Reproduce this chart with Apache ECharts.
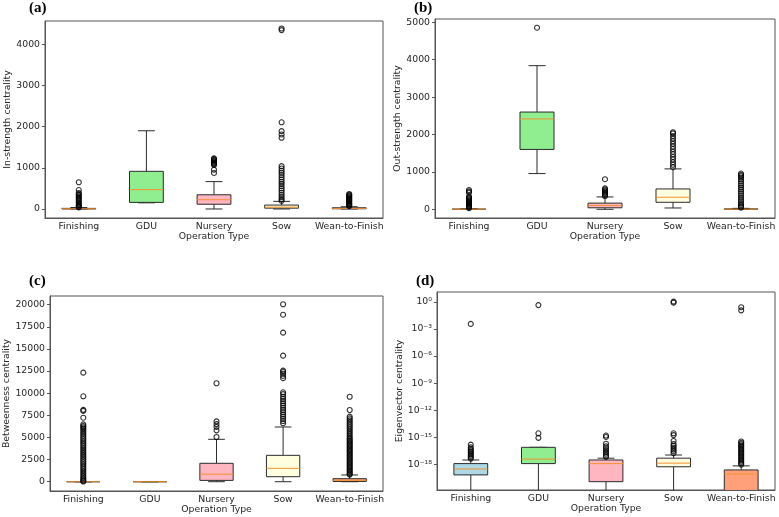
<!DOCTYPE html>
<html>
<head>
<meta charset="utf-8">
<script src="https://cdn.jsdelivr.net/npm/echarts@6/dist/echarts.min.js"></script>
<style>
    html, body { margin: 0; padding: 0; background: #fff; }
    #chart { width: 779px; height: 517px; }
</style>
</head>
<body>
<div id="chart"></div>
<script>
// operation types on the x axis of every panel
var categories = ['Finishing', 'GDU', 'Nursery', 'Sow', 'Wean-to-Finish'];

// boxes are [lower whisker, Q1, median, Q3, upper whisker], one per operation type
var inStrengthBoxes = [
    [0, 0, 5, 15, 35],
    [150, 160, 470, 915, 1900],
    [0, 115, 225, 345, 665],
    [0, 20, 45, 95, 185],
    [0, 5, 15, 30, 55]
];
var inStrengthOutliers = [
    [650, 460, 390, 360, 330, 300, 270, 240, 210, 180, 150, 120, 95, 75, 55, 40],
    [],
    [1230, 1210, 1190, 1170, 1150, 1130, 1110, 1090, 1070, 955, 875],
    [4385, 4345, 2105, 1890, 1810, 1730, 1040, 985, 930, 880, 825, 770, 715, 660, 610, 555, 500, 450, 395, 340, 290, 240, 200],
    [365, 345, 325, 305, 285, 265, 245, 225, 205, 185, 165, 145, 125, 105, 85, 70]
];

var outStrengthBoxes = [
    [0, 0, 2, 5, 10],
    [955, 1600, 2415, 2600, 3840],
    [0, 40, 100, 165, 330],
    [35, 187, 322, 544, 1080],
    [0, 0, 3, 10, 25]
];
var outStrengthOutliers = [
    [515, 480, 445, 340, 315, 290, 265, 240, 215, 190, 165, 140, 115, 90, 70, 50, 30],
    [4855],
    [805, 560, 530, 500, 470, 440, 410, 380, 350],
    [2060, 2030, 1960, 1890, 1820, 1750, 1680, 1610, 1540, 1470, 1400, 1330, 1260, 1190, 1125],
    [955, 925, 890, 850, 800, 745, 690, 635, 580, 525, 470, 415, 360, 305, 250, 200, 150, 110, 75, 45]
];

var betweennessBoxes = [
    [0, 0, 0, 0, 0],
    [0, 0, 0, 0, 0],
    [0, 150, 850, 2080, 4790],
    [0, 565, 1510, 2980, 6180],
    [0, 30, 150, 340, 760]
];
var betweennessOutliers = [
    [12320, 9650, 8120, 8000, 7230, 6480, 6300, 6150, 6000, 5800, 5600, 5400, 5200, 5000, 4800, 4600, 4400, 4200, 4000,
        3800, 3600, 3400, 3200, 3000, 2800, 2600, 2400, 2200, 2000, 1800, 1600, 1400, 1200, 1000, 800, 600, 400, 250, 100, 20],
    [],
    [11120, 6820, 6500, 6200, 5800, 5050],
    [20050, 18870, 16840, 14240, 12550, 12400, 12200, 11950, 11700, 10100, 9900, 9600, 9350, 9100, 8850, 8600,
        8350, 8100, 7850, 7600, 7350, 7100, 6850, 6600],
    [9600, 8100, 7350, 7150, 6950, 6750, 6550, 6350, 6150, 5950, 5750, 5550, 5350, 5150, 4950, 4800, 4650, 4500, 4350,
        4200, 4050, 3900, 3750, 3600, 3450, 3300, 3150, 3000, 2850, 2700, 2550, 2400, 2250, 2100, 1950, 1800, 1650,
        1500, 1350, 1200, 1050, 900, 800]
];

// eigenvector centrality is on a log scale: these are log10 of the values (-22 = runs off the bottom)
var eigenLog10Boxes = [
    [-22, -19.15, -18.5, -17.9, -17.5],
    [-22, -17.9, -17.4, -16.1, -16.1],
    [-22, -19.9, -17.9, -17.5, -17.3],
    [-22, -18.25, -17.85, -17.3, -16.95],
    [-22, -22, -19.05, -18.6, -18.15]
];
var eigenLog10Outliers = [
    [-2.45, -15.8, -16.1, -16.3, -16.45, -16.6, -16.75, -16.9, -17.05, -17.2, -17.35],
    [-0.37, -14.55, -15.05],
    [-14.8, -14.95, -15.7, -16.0, -16.2, -16.4, -16.6, -16.8, -17.0, -17.15],
    [0.02, -0.1, -14.55, -14.75, -15.4, -15.75, -15.95, -16.15, -16.35, -16.55, -16.75],
    [-0.6, -0.95, -15.45, -15.6, -15.75, -15.9, -16.05, -16.2, -16.35, -16.5, -16.65, -16.8, -16.95, -17.1,
        -17.25, -17.4, -17.55, -17.7, -17.85, -18.0]
];

// tick labels of each y axis
var inStrengthTicks = [0, 1000, 2000, 3000, 4000];
var outStrengthTicks = [0, 1000, 2000, 3000, 4000, 5000];
var betweennessTicks = [0, 2500, 5000, 7500, 10000, 12500, 15000, 17500, 20000];
var eigenLog10Ticks = [-18, -15, -12, -9, -6, -3, 0];

var boxColors = ['#add8e6', '#90ee90', '#ffb6c1', '#ffffe0', '#ffa07a'];
var edgeColor = '#2b2b2b';
var medianColor = '#f5922f';
var textColor = '#262626';
var fontFamily = '"DejaVu Sans", sans-serif';

function superscript(n) {
    var map = { '-': '\u207b', '0': '\u2070', '1': '\u00b9', '2': '\u00b2', '3': '\u00b3', '4': '\u2074',
        '5': '\u2075', '6': '\u2076', '7': '\u2077', '8': '\u2078', '9': '\u2079' };
    return String(n).split('').map(function (c) { return map[c] || c; }).join('');
}

function renderBox(params, api) {
    var idx = api.value(0);
    var pLo = api.coord([idx, api.value(1)]);
    var pQ1 = api.coord([idx, api.value(2)]);
    var pMed = api.coord([idx, api.value(3)]);
    var pQ3 = api.coord([idx, api.value(4)]);
    var pHi = api.coord([idx, api.value(5)]);
    var bw = api.size([1, 0])[0] * 0.5;
    var cap = bw * 0.5;
    var x = pLo[0];
    function ln(x1, y1, x2, y2, color) {
        return { type: 'line', shape: { x1: x1, y1: y1, x2: x2, y2: y2 },
            style: { stroke: color || edgeColor, lineWidth: 1 } };
    }
    return {
        type: 'group',
        children: [
            ln(x, pQ1[1], x, pLo[1]),
            ln(x, pQ3[1], x, pHi[1]),
            ln(x - cap / 2, pLo[1], x + cap / 2, pLo[1]),
            ln(x - cap / 2, pHi[1], x + cap / 2, pHi[1]),
            {
                type: 'rect',
                shape: { x: x - bw / 2, y: pQ3[1], width: bw, height: pQ1[1] - pQ3[1] },
                style: { fill: boxColors[params.dataIndex], stroke: edgeColor, lineWidth: 1 }
            },
            ln(x - bw / 2, pMed[1], x + bw / 2, pMed[1], medianColor)
        ]
    };
}

var panels = [
    { label: '(a)', name: 'In-strength centrality', boxes: inStrengthBoxes, outliers: inStrengthOutliers,
        ticks: inStrengthTicks, min: -219, max: 4566, nameGap: 31,
        grid: { left: 45, top: 21, width: 338, height: 197 }, title: { left: 29, top: 1 } },
    { label: '(b)', name: 'Out-strength centrality', boxes: outStrengthBoxes, outliers: outStrengthOutliers,
        ticks: outStrengthTicks, min: -233, max: 5088, nameGap: 31,
        grid: { left: 435, top: 19, width: 340, height: 199 }, title: { left: 414, top: 1 } },
    { label: '(c)', name: 'Betweenness centrality', boxes: betweennessBoxes, outliers: betweennessOutliers,
        ticks: betweennessTicks, min: -1050, max: 20980, nameGap: 37,
        grid: { left: 50, top: 296, width: 333, height: 195 }, title: { left: 29, top: 274 } },
    { label: '(d)', name: 'Eigenvector centrality', boxes: eigenLog10Boxes, outliers: eigenLog10Outliers,
        ticks: eigenLog10Ticks, min: -20.82, max: 1.08, nameGap: 33, log: true,
        grid: { left: 437, top: 292, width: 338, height: 198 }, title: { left: 416, top: 274 } }
];

var option = {
    backgroundColor: '#fff',
    animation: false,
    title: [],
    grid: [],
    xAxis: [],
    yAxis: [],
    series: []
};

panels.forEach(function (p, i) {
    option.title.push({
        text: p.label, left: p.title.left, top: p.title.top, padding: 0,
        textStyle: { fontFamily: '"Liberation Serif", serif', fontWeight: 'bold', fontSize: 15, color: '#000' }
    });
    option.grid.push({
        left: p.grid.left, top: p.grid.top, width: p.grid.width, height: p.grid.height,
        show: true, borderColor: '#555', borderWidth: 1, backgroundColor: 'transparent'
    });
    option.xAxis.push({
        type: 'category', gridIndex: i, data: categories,
        name: 'Operation Type', nameLocation: 'middle', nameGap: 14,
        nameTextStyle: { fontFamily: fontFamily, fontSize: 9.3, color: textColor },
        axisLine: { onZero: false, lineStyle: { color: '#555' } },
        axisTick: { alignWithLabel: true, length: 3, lineStyle: { color: '#555' } },
        axisLabel: { fontFamily: fontFamily, fontSize: 9.3, color: textColor, margin: 4, interval: 0 },
        splitLine: { show: false }
    });
    option.yAxis.push({
        type: 'value', gridIndex: i, min: p.min, max: p.max, scale: true,
        name: p.name, nameLocation: 'middle', nameGap: p.nameGap,
        nameTextStyle: { fontFamily: fontFamily, fontSize: 9.3, color: textColor },
        axisLine: { show: true, onZero: false, lineStyle: { color: '#555' } },
        axisTick: { show: true, length: 3, customValues: p.ticks, lineStyle: { color: '#555' } },
        axisLabel: {
            fontFamily: fontFamily, fontSize: 9.3, color: textColor, margin: 5,
            customValues: p.ticks,
            formatter: p.log ? function (v) { return '10' + superscript(v); } : function (v) { return String(v); }
        },
        splitLine: { show: false }
    });
    option.series.push({
        type: 'custom', xAxisIndex: i, yAxisIndex: i, clip: true,
        renderItem: renderBox,
        encode: { x: 0, y: [1, 2, 3, 4, 5] },
        data: p.boxes.map(function (b, k) { return [k].concat(b); })
    });
    var pts = [];
    p.outliers.forEach(function (list, k) {
        list.forEach(function (v) { pts.push([k, v]); });
    });
    option.series.push({
        type: 'scatter', xAxisIndex: i, yAxisIndex: i, clip: true,
        symbol: 'circle', symbolSize: 5,
        itemStyle: { color: 'transparent', borderColor: '#000', borderWidth: 1.1 },
        data: pts
    });
});

var chart = echarts.init(document.getElementById('chart'));
chart.setOption(option);
</script>
</body>
</html>
